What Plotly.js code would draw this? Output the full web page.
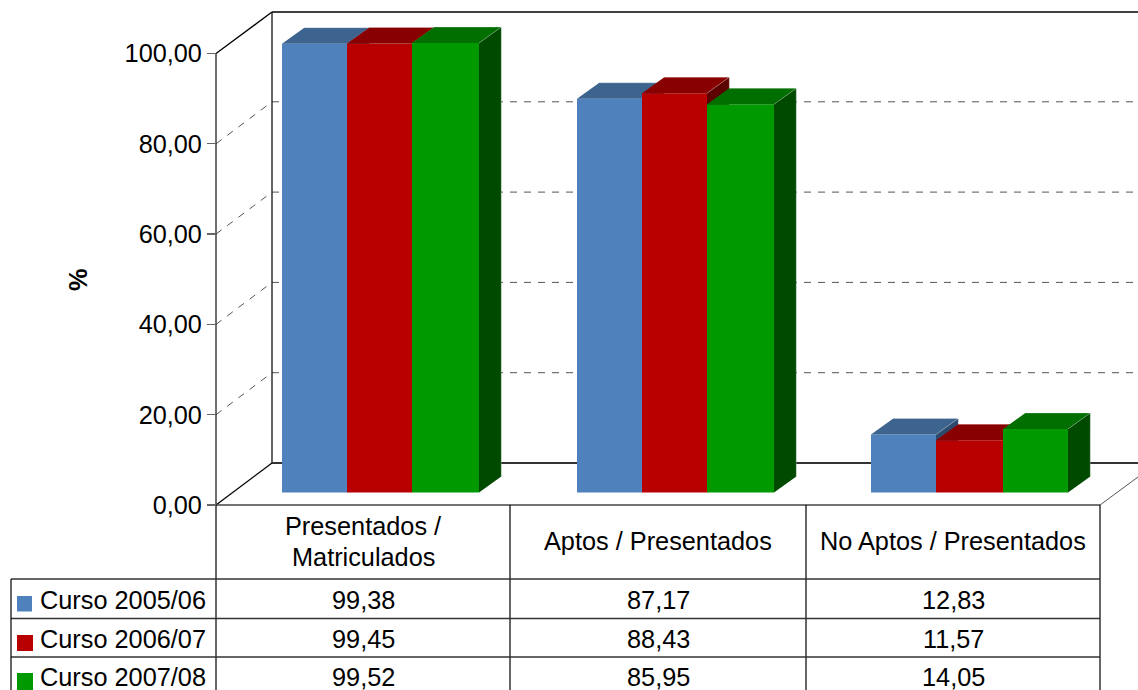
<!DOCTYPE html>
<html><head><meta charset="utf-8">
<script src="https://cdn.plot.ly/plotly-3.0.1.min.js"></script>
<style>html,body{margin:0;padding:0;background:#fff;overflow:hidden}#c{width:1138px;height:690px}</style>
</head><body><div id="c"></div>
<script>
const categories = [["Presentados /","Matriculados"],["Aptos / Presentados"],["No Aptos / Presentados"]];
const seriesNames = ["Curso 2005/06","Curso 2006/07","Curso 2007/08"];
const curso0506 = [99.38,87.17,12.83];
const curso0607 = [99.45,88.43,11.57];
const curso0708 = [99.52,85.95,14.05];
const tickVals = [0,20,40,60,80,100];
const tickText = ["0,00","20,00","40,00","60,00","80,00","100,00"];
const frontColors = ["#4f81bd","#b80000","#009900"];
const topColors = ["#3c648f","#880000","#006f00"];
const sideColors = ["#2c4a6e","#5c0000","#004a00"];

const W=1138,H=690,Y0=505,K=4.515;
const yv = px => (Y0-px)/K;          // pixel row -> value-axis units
const series=[curso0506,curso0607,curso0708];
const groupStart=[282,577,871], DX=22.3, DYpx=16, baseVal=yv(492.4), DY=DYpx/K;
// pixel-snapped bar edges per group, as rendered in the source image
const barEdges=[[0,65,130,197],[0,65,130,197],[0,65,132,197]];
const fmt=v=>v.toFixed(2).replace('.',',');

const data=[];
series.forEach((vals,s)=>{
  const xa=s?('x'+(s+1)):'x', ya=s?('y'+(s+1)):'y';
  const ls=vals.map((v,i)=>groupStart[i]+barEdges[i][s]);
  const rs=vals.map((v,i)=>groupStart[i]+barEdges[i][s+1]);
  data.push({type:'bar',name:seriesNames[s],x:ls.map((l,i)=>(l+rs[i])/2),y:vals,base:vals.map(()=>baseVal),
    width:ls.map((l,i)=>rs[i]-l),
    marker:{color:frontColors[s],line:{width:0}},xaxis:xa,yaxis:ya,hoverinfo:'skip'});
  vals.forEach((v,i)=>{
    const l=ls[i],r=rs[i],t=baseVal+v;
    data.push({type:'scatter',mode:'lines',x:[l,r,r+DX,l+DX,l],y:[t,t,t+DY,t+DY,t],fill:'toself',
      fillcolor:topColors[s],line:{width:0},xaxis:xa,yaxis:ya,hoverinfo:'skip'});
    data.push({type:'scatter',mode:'lines',x:[r,r+DX,r+DX,r,r],y:[baseVal,baseVal+DY,t+DY,t,baseVal],fill:'toself',
      fillcolor:sideColors[s],line:{width:0},xaxis:xa,yaxis:ya,hoverinfo:'skip'});
    data.push({type:'scatter',mode:'lines',x:[l+DX,r+DX,r+DX,null,r,r+DX],y:[t+DY,t+DY,baseVal+DY,null,t,t+DY],
      connectgaps:false,line:{width:0.8,color:'rgba(255,255,255,0.3)'},xaxis:xa,yaxis:ya,hoverinfo:'skip'});
  });
});

const shapes=[];
const line=(x0,p0,x1,p1,color,width,dash,layer)=>shapes.push({type:'line',xref:'x',yref:'y',x0:x0,y0:yv(p0),x1:x1,y1:yv(p1),
  line:{color:color,width:width,dash:dash||'solid'},layer:layer||'below'});
// dashed grid on the walls
tickVals.slice(1,5).forEach(v=>{
  const p=Y0-v*K;
  line(216,p,272,p-42,'#555',1,'7px,7px');
  line(272,p-42,W,p-42,'#555',1,'7px,7px');
});
// walls & floor
line(216,Y0-100*K,272,12,'#000',1.3);
line(272,12,W,12,'#000',1.3);
line(272,12,272,463,'#111',1.3);
line(272,463,W,463,'#333',1.8);
line(216,Y0,272,463,'#000',1.3);
line(1100,Y0,W,477,'#555',1);
line(216,Y0-100*K,216,Y0,'#222',1.3);
// table grid
line(216,Y0,1100,Y0,'#444',1.6);
[216,510,806,1100].forEach(x=>line(x,Y0,x,H,'#000',1.2));
[579,618.5,657].forEach(p=>line(11,p,1100,p,'#333',1.3));
line(11,579,11,H,'#000',1.2);
// legend keys
const keyTop=[596,635,673],keyH=[15.5,16,17],keyW=[15,16,16];
seriesNames.forEach((n,s)=>shapes.push({type:'rect',xref:'x',yref:'y',x0:17,x1:17+keyW[s],y0:yv(keyTop[s]),y1:yv(keyTop[s]+keyH[s]),
  fillcolor:frontColors[s],line:{width:0},layer:'above'}));

const F='"Liberation Sans", Arial, sans-serif', FS=25.3;
const ann=[];
const label=(text,x,p,anchor,extra)=>ann.push(Object.assign({text:text,xref:'x',yref:'y',x:x,y:yv(p),xanchor:anchor||'center',yanchor:'middle',
  showarrow:false,borderpad:0,font:{family:F,size:FS,color:'#000'}},extra||{}));
const centers=[363,658,953];
categories.forEach((c,i)=>{
  if(c.length===2){label(c[0],centers[i],526);label(c[1],centers[i],557);}
  else label(c[0],centers[i],541);
});
const rowP=[600,639,677];
seriesNames.forEach((n,s)=>{
  label(n,39,rowP[s],'left');
  series[s].forEach((v,i)=>label(fmt(v),centers[i],rowP[s]));
});
label('%',78,280,'center',{textangle:-90,font:{family:F,size:FS,color:'#000',weight:700}});

const hx={range:[0,W],visible:false,fixedrange:true};
const hy={range:[yv(H),yv(0)],visible:false,fixedrange:true};
const layout={width:W,height:H,margin:{l:0,r:0,t:0,b:0},showlegend:false,barmode:'overlay',
  paper_bgcolor:'#fff',plot_bgcolor:'rgba(0,0,0,0)',
  xaxis:Object.assign({},hx),
  yaxis:{range:hy.range,fixedrange:true,anchor:'free',position:216/W,side:'left',showgrid:false,zeroline:false,showline:false,
    tickmode:'array',tickvals:tickVals,ticktext:tickText,ticks:'outside',ticklen:9,tickwidth:1.3,tickcolor:'#666',
    tickfont:{family:F,size:FS,color:'#000'}},
  xaxis2:Object.assign({overlaying:'x'},hx),yaxis2:Object.assign({overlaying:'y'},hy),
  xaxis3:Object.assign({overlaying:'x'},hx),yaxis3:Object.assign({overlaying:'y'},hy),
  shapes:shapes,annotations:ann};
Plotly.newPlot('c',data,layout,{displayModeBar:false,staticPlot:true});
</script></body></html>
